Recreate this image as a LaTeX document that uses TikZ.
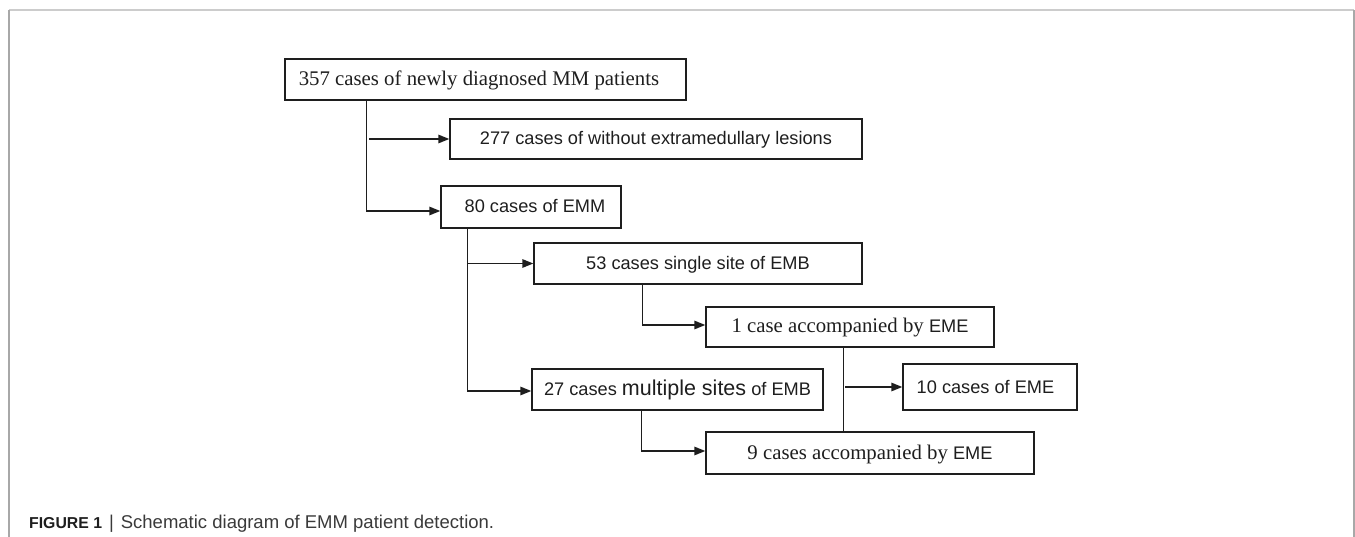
\documentclass[tikz,border=0pt]{standalone}
\usepackage{fontspec}
\setmainfont{Liberation Serif}
\setsansfont{Liberation Sans}
\usetikzlibrary{arrows.meta,calc}
\definecolor{ink}{HTML}{1E1E1E}
\definecolor{frametop}{HTML}{CCCCCC}
\definecolor{frameside}{HTML}{A8A8A8}
\definecolor{captext}{HTML}{3A3A3A}
\newcommand\sanssz{\fontsize{18.2}{22}\selectfont\sffamily}
\newcommand\bigsanssz{\fontsize{21.5}{22}\selectfont\sffamily}
\newcommand\serifsz{\fontsize{20.8}{22}\selectfont\rmfamily}
\begin{document}
\begin{tikzpicture}[x=1pt,y=-1pt,
  box/.style={draw=ink, line width=1.4pt, inner sep=0pt, text=ink,
    text height=12pt, text depth=0pt},
  sbox/.style={box, font=\sanssz},
  rbox/.style={box, font=\serifsz},
  link/.style={draw=ink, line width=1.5pt},
  arr/.style={link, -{Triangle[length=11pt,width=8.5pt]}}]
\useasboundingbox (0,0) rectangle (1355,537);
% frame
\draw[frametop, line width=1.6pt] (9,10) -- (1354,10);
\draw[frameside, line width=1.4pt] (9,10) -- (9,537);
\draw[frameside, line width=1.4pt] (1354,10) -- (1354,537);
% boxes
\node[rbox, minimum width=401pt, minimum height=41pt] (A) at (485.5,79.5)
  {\hspace*{-13pt}357 cases of newly diagnosed MM patients};
\node[sbox, minimum width=412pt, minimum height=40pt] (B) at (656,139)
  {277 cases of without extramedullary lesions};
\node[sbox, minimum width=180pt, minimum height=42pt] (C) at (531,207)
  {\hspace*{8pt}80 cases of EMM};
\node[sbox, minimum width=328pt, minimum height=41pt] (D) at (698,263.5)
  {53 cases single site of EMB};
\node[rbox, minimum width=288pt, minimum height=40pt] (E) at (850,327)
  {1 case accompanied by {\sanssz EME}};
\node[sbox, minimum width=174pt, minimum height=46pt] (F) at (990,387)
  {\hspace*{-9pt}10 cases of EME};
\node[sbox, minimum width=291pt, minimum height=41pt] (G) at (677.5,389.5)
  {27 cases {\bigsanssz multiple sites} of EMB};
\node[rbox, minimum width=328pt, minimum height=42pt] (H) at (870,453)
  {9 cases accompanied by {\sanssz EME}};
% connectors
\draw[arr] ($(A.south west)+(82,0)$) |- ($(C.west)+(0,4)$);
\coordinate (j1) at (369,139);
\draw[arr] (j1) -- (B.west);
\draw[arr] ($(C.south west)+(27,0)$) |- ($(G.west)+(0,1.5)$);
\coordinate (j2) at (468,263.5);
\draw[arr] (j2) -- (D.west);
\draw[arr] ($(D.south west)+(109,0)$) |- ($(E.west)+(0,-2)$);
\draw[arr] ($(G.south west)+(110,0)$) |- ($(H.west)+(0,-2)$);
\draw[link] ($(E.south west)+(138,0)$) -- ($(H.north west)+(138,0)$);
\coordinate (j3) at (845,387);
\draw[arr] (j3) -- (F.west);
% caption
\node[anchor=base west, inner sep=0pt, text=captext] (cap) at (29,528)
  {\sffamily{\fontsize{15.8}{18}\selectfont\bfseries\color{ink}FIGURE 1}\hspace{7pt}{\fontsize{18.5}{18}\selectfont|\hspace{7pt}Schematic diagram of EMM patient detection.}};
\end{tikzpicture}
\end{document}
